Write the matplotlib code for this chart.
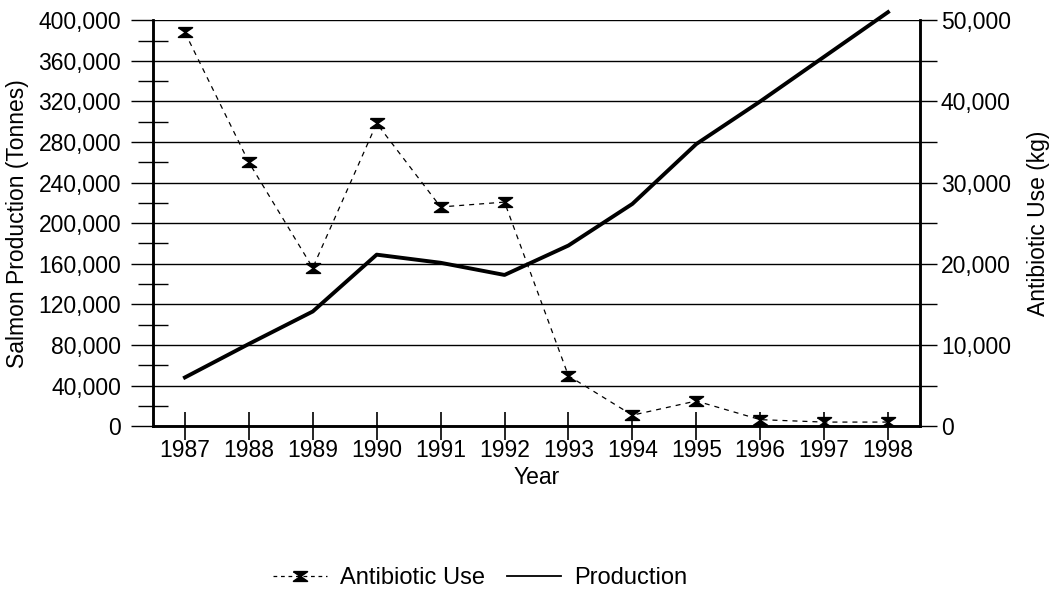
import matplotlib
matplotlib.use('Agg')
import matplotlib.pyplot as plt
from matplotlib.path import Path
from matplotlib.ticker import MultipleLocator, FuncFormatter

plt.rcParams['font.family'] = ['Liberation Sans', 'DejaVu Sans']

# Values
years = [1987, 1988, 1989, 1990, 1991, 1992, 1993, 1994, 1995, 1996, 1997, 1998]
production_t = [48000, 81000, 113000, 169000, 161000, 149000, 178000, 219000,
                278000, 320000, 364000, 408000]
antibiotic_kg = [48500, 32500, 19500, 37300, 27000, 27600, 6200, 1350,
                 3100, 800, 500, 500]

# hourglass-like marker: X with bars at top and bottom
hourglass = Path([(-1.3, 0.9), (1.3, 0.9), (-1.3, -0.9), (1.3, -0.9), (-1.3, 0.9)],
                 [Path.MOVETO, Path.LINETO, Path.LINETO, Path.LINETO, Path.LINETO])

fig = plt.figure(figsize=(10.55, 5.96), dpi=100)
ax = fig.add_axes([0.145, 0.285, 0.727, 0.681])
ax2 = ax.twinx()

fs = 16.5
comma = FuncFormatter(lambda v, p: f'{int(v):,}')

# left axis: production
ax.plot(years, production_t, '-', color='black', linewidth=2.8,
        clip_on=False, zorder=3)
ax.set_xlim(1986.5, 1998.5)
ax.set_ylim(0, 400000)
ax.yaxis.set_major_locator(MultipleLocator(40000))
ax.yaxis.set_minor_locator(MultipleLocator(20000))
ax.yaxis.set_major_formatter(comma)
ax.set_xticks(years)
ax.grid(axis='y', which='major', color='black', linewidth=1.0)
ax.set_axisbelow(True)
ax.tick_params(axis='y', which='major', direction='out', length=16, width=1.0,
               labelsize=fs, pad=7)
ax.tick_params(axis='y', which='minor', direction='inout', length=21, width=1.0)
ax.tick_params(axis='x', direction='inout', length=20, width=1.2,
               labelsize=fs, pad=-1)
ax.set_xlabel('Year', fontsize=fs, labelpad=3)
ax.set_ylabel('Salmon Production (Tonnes)', fontsize=fs, labelpad=7)

# right axis: antibiotic use
ax2.plot(years, antibiotic_kg, linestyle=(0, (4, 4)), color='black',
         linewidth=0.9, marker=hourglass, markersize=10, markeredgewidth=1.2,
         markeredgecolor='black', markerfacecolor='black', zorder=4)
ax2.set_ylim(0, 50000)
ax2.yaxis.set_major_locator(MultipleLocator(10000))
ax2.yaxis.set_minor_locator(MultipleLocator(5000))
ax2.yaxis.set_major_formatter(comma)
ax2.tick_params(axis='y', which='both', direction='out', length=12, width=1.0,
                labelsize=fs, pad=3)
ax2.set_ylabel('Antibiotic Use (kg)', fontsize=fs, labelpad=12)

for a in (ax, ax2):
    a.spines['top'].set_visible(False)
    for s in ('left', 'right', 'bottom'):
        a.spines[s].set_linewidth(1.8)

handles = [
    plt.Line2D([], [], linestyle=(0, (3, 3)), color='black', linewidth=0.9,
               marker=hourglass, markersize=10, markeredgewidth=1.2,
               markerfacecolor='black'),
    plt.Line2D([], [], linestyle='-', color='black', linewidth=1.3),
]
fig.legend(handles, ['Antibiotic Use', 'Production'], loc='center',
           bbox_to_anchor=(480 / 1055, 1 - 578 / 596), ncol=2, frameon=False,
           fontsize=17, handlelength=2.3, handletextpad=0.55,
           columnspacing=0.9)

fig.savefig('out.png', dpi=100)
